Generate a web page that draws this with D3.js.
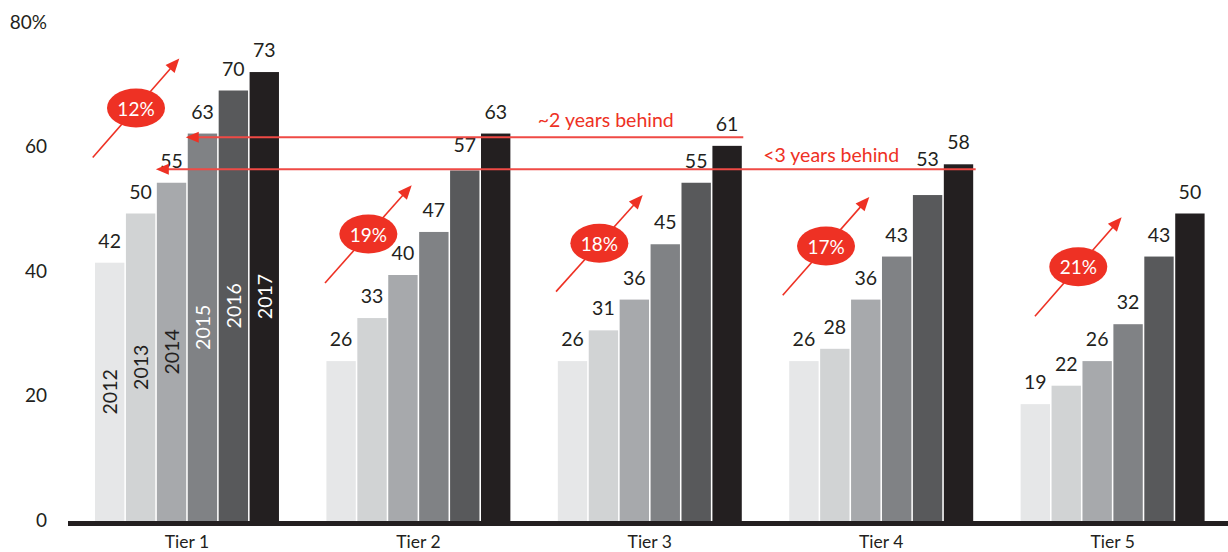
<!DOCTYPE html>
<html>
<head>
<meta charset="utf-8">
<script src="https://cdn.jsdelivr.net/npm/d3@7"></script>
<style>
  html, body { margin: 0; padding: 0; background: #fff; }
  svg { display: block; }
  text { font-family: Lato, "Open Sans", sans-serif; }
</style>
</head>
<body>
<svg id="chart" width="1228" height="552"></svg>
<script>
// ---------------- DATA ----------------
const tiers = ["Tier 1", "Tier 2", "Tier 3", "Tier 4", "Tier 5"];
const years = ["2012", "2013", "2014", "2015", "2016", "2017"];
const v2012 = [42, 26, 26, 26, 19];
const v2013 = [50, 33, 31, 28, 22];
const v2014 = [55, 40, 36, 36, 26];
const v2015 = [63, 47, 45, 43, 32];
const v2016 = [70, 57, 55, 53, 43];
const v2017 = [73, 63, 61, 58, 50];
const cagr = ["12%", "19%", "18%", "17%", "21%"];
const yTicks = [0, 20, 40, 60, 80];
const gapLabels = ["~2 years behind", "<3 years behind"];
const gapLevels = [62.4, 57.2];

// ---------------- LAYOUT / STYLE ----------------
const seriesByYear = [v2012, v2013, v2014, v2015, v2016, v2017];
const yearColors = ["#e6e7e8", "#d1d3d4", "#a7a9ac", "#808285", "#58595b", "#231f20"];
const yearTextColors = ["#231f20", "#231f20", "#231f20", "#ffffff", "#ffffff", "#ffffff"];
const red = "#ee3124";
const lineRed = "#ef4a45";
const ink = "#231f20";

const svg = d3.select("#chart");

const x = d3.scaleBand().domain(tiers).range([95, 1204.6]).paddingInner(0.205).paddingOuter(0);
const xi = d3.scaleBand().domain(years).range([0, x.bandwidth()]).paddingInner(0.05).paddingOuter(0);
const y = d3.scaleLinear().domain([0, 80]).range([521, 521 - 80 * 6.15]);
const yTickScale = d3.scaleLinear().domain([0, 80]).range([520, 22]);

const rows = [];
tiers.forEach((t, ti) => years.forEach((yr, yi) => rows.push({ tier: t, ti, year: yr, yi, value: seriesByYear[yi][ti] })));

// value-label lifts to avoid the annotation lines
const labelLift = { "Tier 4|2016": 14, "Tier 2|2016": 3 };

// Y axis labels
const yAxis = d3.axisLeft(yTickScale).tickValues(yTicks).tickSize(0).tickPadding(0)
  .tickFormat(d => d === 80 ? "80%" : String(d));
const gAxis = svg.append("g").attr("transform", "translate(47,0)").call(yAxis);
gAxis.select(".domain").remove();
gAxis.selectAll("text").attr("font-family", "Lato, sans-serif").attr("font-size", 19).attr("fill", ink);

// Bars
svg.append("g").selectAll("rect").data(rows).join("rect")
  .attr("x", d => x(d.tier) + xi(d.year))
  .attr("y", d => y(d.value))
  .attr("width", xi.bandwidth())
  .attr("height", d => y(0) - y(d.value))
  .attr("fill", d => yearColors[d.yi]);

// Value labels
svg.append("g").selectAll("text").data(rows).join("text")
  .attr("x", d => x(d.tier) + xi(d.year) + xi.bandwidth() / 2)
  .attr("y", d => y(d.value) - 15 - (labelLift[d.tier + "|" + d.year] || 0))
  .attr("text-anchor", "middle")
  .attr("font-size", 19.5)
  .attr("fill", ink)
  .text(d => d.value);

// Year labels inside Tier 1 bars
svg.append("g").selectAll("text").data(rows.filter(d => d.ti === 0)).join("text")
  .attr("transform", d => {
    const cx = x(d.tier) + xi(d.year) + xi.bandwidth() / 2;
    const cy = (y(d.value) + y(0)) / 2;
    return `translate(${cx},${cy}) rotate(-90)`;
  })
  .attr("text-anchor", "middle")
  .attr("dominant-baseline", "central")
  .attr("font-size", 19.5)
  .attr("fill", d => yearTextColors[d.yi])
  .text(d => d.year);

// Baseline axis
svg.append("line")
  .attr("x1", 68).attr("x2", 1228)
  .attr("y1", y(0) + 2.4).attr("y2", y(0) + 2.4)
  .attr("stroke", ink).attr("stroke-width", 5);

// Tier labels
svg.append("g").selectAll("text").data(tiers).join("text")
  .attr("x", d => x(d) + x.bandwidth() / 2)
  .attr("y", 548)
  .attr("text-anchor", "middle")
  .attr("font-size", 17.5)
  .attr("fill", ink)
  .text(d => d);

// Arrowhead helper
function arrowHead(g, tipX, tipY, angle, len, half, color) {
  const bx = tipX - Math.cos(angle) * len, by = tipY - Math.sin(angle) * len;
  const px = -Math.sin(angle) * half, py = Math.cos(angle) * half;
  g.append("path")
    .attr("d", `M${tipX},${tipY}L${bx + px},${by + py}L${bx - px},${by - py}Z`)
    .attr("fill", color);
}

// "Years behind" lines
const gapLayout = [
  { fromTier: "Tier 3", toYear: "2015", endPad: 1.5, tipPad: 2, textDx: -20, textDy: -10 },
  { fromTier: "Tier 4", toYear: "2014", endPad: 2.5, tipPad: 1, textDx: -26, textDy: -7 }
];
const gGap = svg.append("g");
gapLayout.forEach((L, i) => {
  const yy = y(gapLevels[i]);
  const tipX = x("Tier 1") + xi(L.toYear) - L.tipPad;
  const endX = x(L.fromTier) + x.bandwidth() + L.endPad;
  gGap.append("line")
    .attr("x1", tipX + 10).attr("x2", endX)
    .attr("y1", yy).attr("y2", yy)
    .attr("stroke", lineRed).attr("stroke-width", 2);
  arrowHead(gGap, tipX, yy, Math.PI, 13, 5.5, red);
  gGap.append("text")
    .attr("x", x(L.fromTier) + L.textDx)
    .attr("y", yy + L.textDy)
    .attr("font-size", 19.5)
    .attr("fill", red)
    .text(gapLabels[i]);
});

// CAGR arrows (start offset px from group start, start value, tip offset, tip value)
const cagrLayout = [
  [-2.3, 59.1, 84.3, 75.2],
  [-1.4, 38.7, 85.3, 54.6],
  [-1.8, 37.3, 84.9, 53.0],
  [-6.5, 36.7, 80.1, 52.7],
  [14.3, 33.3, 101.0, 49.4]
];
const gC = svg.append("g");
tiers.forEach((t, i) => {
  const [sdx, sv, edx, ev] = cagrLayout[i];
  const x1 = x(t) + sdx, y1 = y(sv), x2 = x(t) + edx, y2 = y(ev);
  const ang = Math.atan2(y2 - y1, x2 - x1);
  gC.append("line")
    .attr("x1", x1).attr("y1", y1)
    .attr("x2", x2 - Math.cos(ang) * 10).attr("y2", y2 - Math.sin(ang) * 10)
    .attr("stroke", red).attr("stroke-width", 1.6);
  arrowHead(gC, x2, y2, ang, 14, 6, red);
  const cx = (x1 + x2) / 2, cy = (y1 + y2) / 2;
  gC.append("ellipse").attr("cx", cx).attr("cy", cy).attr("rx", 29).attr("ry", 19.5).attr("fill", red);
  gC.append("text")
    .attr("x", cx).attr("y", cy)
    .attr("text-anchor", "middle").attr("dominant-baseline", "central")
    .attr("font-size", 19).attr("fill", "#fff")
    .text(cagr[i]);
});
</script>
</body>
</html>
